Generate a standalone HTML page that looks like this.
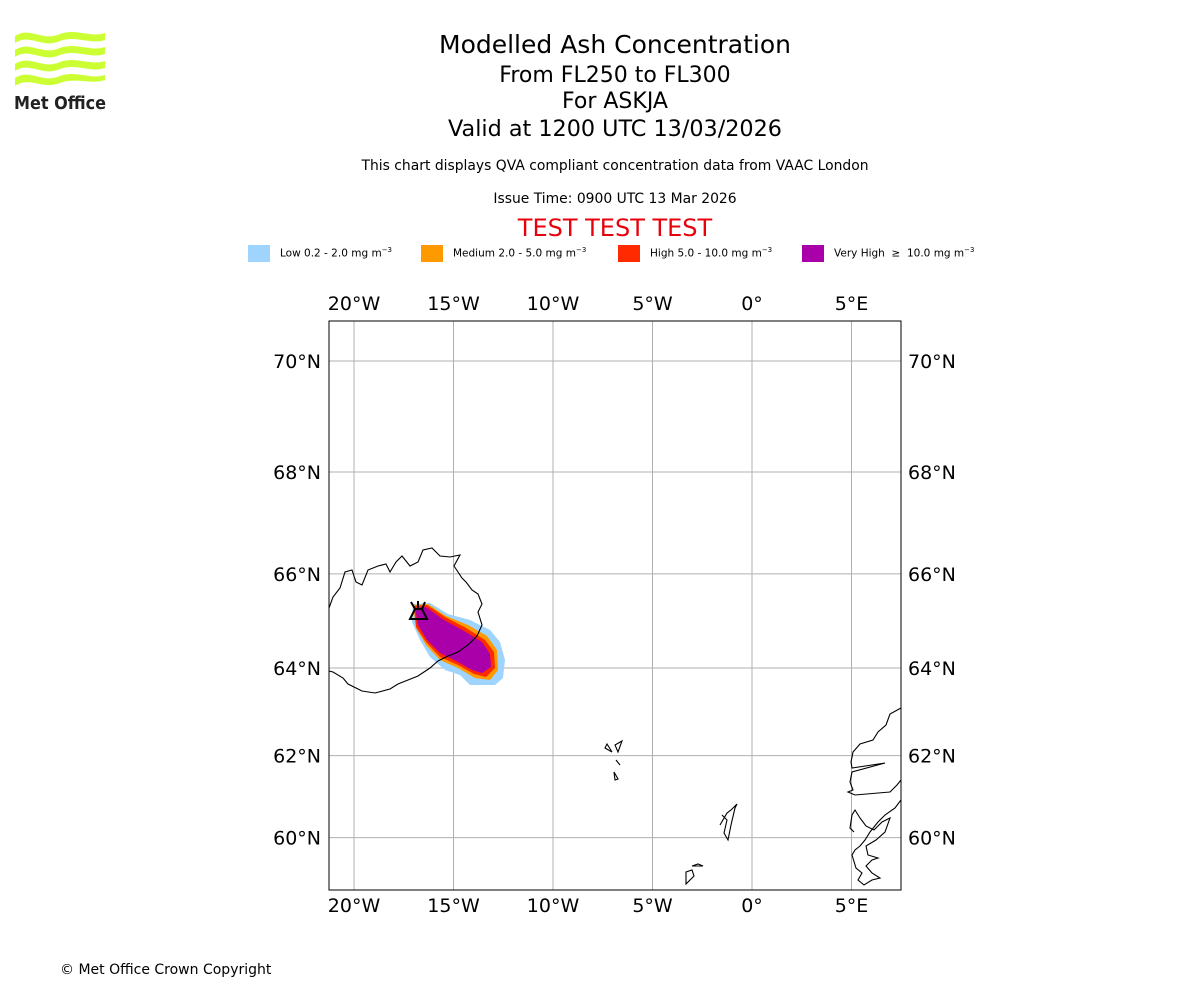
<!DOCTYPE html>
<html><head><meta charset="utf-8"><style>
body{margin:0;background:#fff;font-family:"DejaVu Sans","Liberation Sans",sans-serif;}
#c{position:relative;width:1200px;height:1000px;overflow:hidden;}
.t{position:absolute;left:0;width:1230px;text-align:center;color:#000;}
</style></head><body>
<div id="c">
<svg style="position:absolute;left:12px;top:28px" width="96" height="84" viewBox="0 0 96 84">
<g fill="#ccff33">
<path d="M3 8 C18 -2 30 14 48 6 C64 0 78 10 93 5 L93 12 C78 17 64 7 48 13 C30 21 18 5 3 15Z"/>
<path d="M3 22 C18 12 30 28 48 20 C64 14 78 24 93 19 L93 26 C78 31 64 21 48 27 C30 35 18 19 3 29Z"/>
<path d="M3 36 C18 26 30 42 48 34 C64 28 78 38 93 33 L93 40 C78 45 64 35 48 41 C30 49 18 33 3 43Z"/>
<path d="M3 50 C18 40 30 56 48 48 C64 42 78 52 93 47 L93 52 C78 57 64 49 48 55 C30 62 18 48 3 58Z"/>
</g>
<text x="2" y="81" font-family="DejaVu Sans,sans-serif" font-weight="bold" font-size="18" fill="#222" textLength="92" lengthAdjust="spacingAndGlyphs">Met Office</text>
</svg>
<div class="t" style="top:30px;font-size:25px">Modelled Ash Concentration</div>
<div class="t" style="top:63px;font-size:22px">From FL250 to FL300</div>
<div class="t" style="top:89px;font-size:22px">For ASKJA</div>
<div class="t" style="top:116px;font-size:22.3px">Valid at 1200 UTC 13/03/2026</div>
<div class="t" style="top:158px;font-size:13.9px">This chart displays QVA compliant concentration data from VAAC London</div>
<div class="t" style="top:191px;font-size:13.9px">Issue Time: 0900 UTC 13 Mar 2026</div>
<div class="t" style="top:214px;font-size:24px;color:#e8000b">TEST TEST TEST</div>
<div style="position:absolute;top:245px;left:0;font-size:10.5px">
<div style="position:absolute;left:248px;width:170px"><span style="position:absolute;width:22px;height:17px;background:#9fd4fe"></span><span style="position:absolute;left:32px;top:1px;white-space:nowrap">Low 0.2 - 2.0 mg m<sup style="font-size:7px">−3</sup></span></div>
<div style="position:absolute;left:421px;width:190px"><span style="position:absolute;width:22px;height:17px;background:#ff9900"></span><span style="position:absolute;left:32px;top:1px;white-space:nowrap">Medium 2.0 - 5.0 mg m<sup style="font-size:7px">−3</sup></span></div>
<div style="position:absolute;left:618px;width:180px"><span style="position:absolute;width:22px;height:17px;background:#ff2a00"></span><span style="position:absolute;left:32px;top:1px;white-space:nowrap">High 5.0 - 10.0 mg m<sup style="font-size:7px">−3</sup></span></div>
<div style="position:absolute;left:802px;width:200px"><span style="position:absolute;width:22px;height:17px;background:#aa00aa"></span><span style="position:absolute;left:32px;top:1px;white-space:nowrap">Very High &nbsp;≥&nbsp; 10.0 mg m<sup style="font-size:7px">−3</sup></span></div>
</div>
<svg id="map" style="position:absolute;left:0;top:0" width="1200" height="1000"></svg>
<div style="position:absolute;left:60px;top:962px;font-size:14px">© Met Office Crown Copyright</div>
</div>
<script>
const lonTicks=[-20,-15,-10,-5,0,5];
const lonLabels=["20°W","15°W","10°W","5°W","0°","5°E"];
const latTicks=[70,68,66,64,62,60];
const latLabels=["70°N","68°N","66°N","64°N","62°N","60°N"];
const X0=329,X1=901,Y0=321,Y1=890;
const NS="http://www.w3.org/2000/svg";
const svg=document.getElementById('map');
function merc(l){return Math.log(Math.tan(Math.PI/4+l*Math.PI/360));}
function xs(lon){return 752+lon*19.9;}
function ys(lat){return 361+(merc(70)-merc(lat))*1139;}
function mk(tag,a){const e=document.createElementNS(NS,tag);for(const k in a)e.setAttribute(k,a[k]);svg.appendChild(e);return e;}
const plumes=[
["plume-low","#9fd4fe","413,604 430,603 448,614 470,620 490,630 500,642 505,660 503,678 495,685 470,685 460,675 445,670 430,657 420,640 412,622"],
["plume-medium","#ff9900","413,605 428,604 446,616 468,625 487,636 497,650 498,670 490,680 475,678 458,668 440,660 426,645 416,628"],
["plume-high","#ff2a00","414,606 427,605 445,617 466,628 485,640 494,652 495,668 486,677 474,674 458,665 440,657 426,642 416,627"],
["plume-very-high","#aa00aa","415,608 426,607 444,620 464,631 482,642 490,654 491,667 482,673 472,670 458,662 440,653 427,640 418,625"]];
const coast=[
["iceland-coast","M329,608 333,597 340,588 345,572 352,570 356,582 362,585 368,570 378,566 386,564 390,572 396,562 402,556 410,566 418,562 423,550 432,548 440,556 450,557 460,555 454,566 462,578 466,582 472,590 478,594 482,604 478,612 482,625 477,636 468,645 458,652 448,656 438,661 430,668 418,676 408,680 398,684 390,689 375,693 362,691 348,684 343,678 333,672 329,671"],
["faroe-islands","M605,748 612,752 607,744Z M615,745 622,741 618,752Z M614,772 618,779 615,780Z M616,760 620,765"],
["shetland","M722,815 727,820 724,833 728,840 731,825 735,808 737,804 731,810 727,813 720,825"],
["orkney","M686,872 692,870 694,876 686,884Z M692,866 698,864 703,866Z"],
["norway-coast","M901,708 890,714 886,725 878,732 873,740 860,744 853,752 851,762 852,768 885,763 852,772 850,782 853,790 848,792 855,795 890,792 897,785 901,780 M901,800 895,808 885,815 878,822 870,832 865,840 860,846 855,850 852,855 856,868 862,873 858,880 864,885 872,880 880,878 872,873 866,866 872,860 878,858 868,855 866,846 876,840 885,832 890,818 882,822 874,830 866,826 860,818 855,810 852,815 850,828 854,832"]];
const defs=mk('defs',{});const cp=document.createElementNS(NS,'clipPath');cp.setAttribute('id','clip');defs.appendChild(cp);
const cr=document.createElementNS(NS,'rect');cr.setAttribute('x',X0);cr.setAttribute('y',Y0);cr.setAttribute('width',X1-X0);cr.setAttribute('height',Y1-Y0);cp.appendChild(cr);
const g=mk('g',{'clip-path':'url(#clip)'});


function ap(tag,a){const e=document.createElementNS(NS,tag);for(const k in a)e.setAttribute(k,a[k]);g.appendChild(e);return e;}
lonTicks.forEach((v,i)=>{const l=ap('line',{x1:xs(v),x2:xs(v),y1:Y0,y2:Y1,stroke:'#b0b0b0','stroke-width':1});

});
latTicks.forEach((v,i)=>{const l=ap('line',{x1:X0,x2:X1,y1:ys(v),y2:ys(v),stroke:'#b0b0b0','stroke-width':1});

});
plumes.forEach(p=>{const e=ap('polygon',{points:p[2],fill:p[1]});

});
coast.forEach(c=>{const d=c[1].replace(/(\d) (\d)/g,'$1 L$2');
const e=ap('path',{d:d,fill:'none',stroke:'#000','stroke-width':1.1});

});
const vs=ap('path',{d:'M411,602 L415,609 L410,619 L427,619 L422,609 L425,602 M418,601 L418,608 M415,609 L422,609',fill:'none',stroke:'#000','stroke-width':2});


const fr=mk('rect',{x:X0,y:Y0,width:X1-X0,height:Y1-Y0,fill:'none',stroke:'#000','stroke-width':1});


function txt(s,a,name){const t=mk('text',Object.assign({'font-family':'DejaVu Sans, Liberation Sans, sans-serif','font-size':19,fill:'#000'},a));t.textContent=s;

}
lonTicks.forEach((v,i)=>{txt(lonLabels[i],{x:xs(v),y:310,'text-anchor':'middle'},'top-lon-label');txt(lonLabels[i],{x:xs(v),y:912,'text-anchor':'middle'},'bottom-lon-label');});
latTicks.forEach((v,i)=>{txt(latLabels[i],{x:321,y:ys(v)+7,'text-anchor':'end'},'left-lat-label');txt(latLabels[i],{x:908,y:ys(v)+7,'text-anchor':'start'},'right-lat-label');});
</script>
</body></html>
